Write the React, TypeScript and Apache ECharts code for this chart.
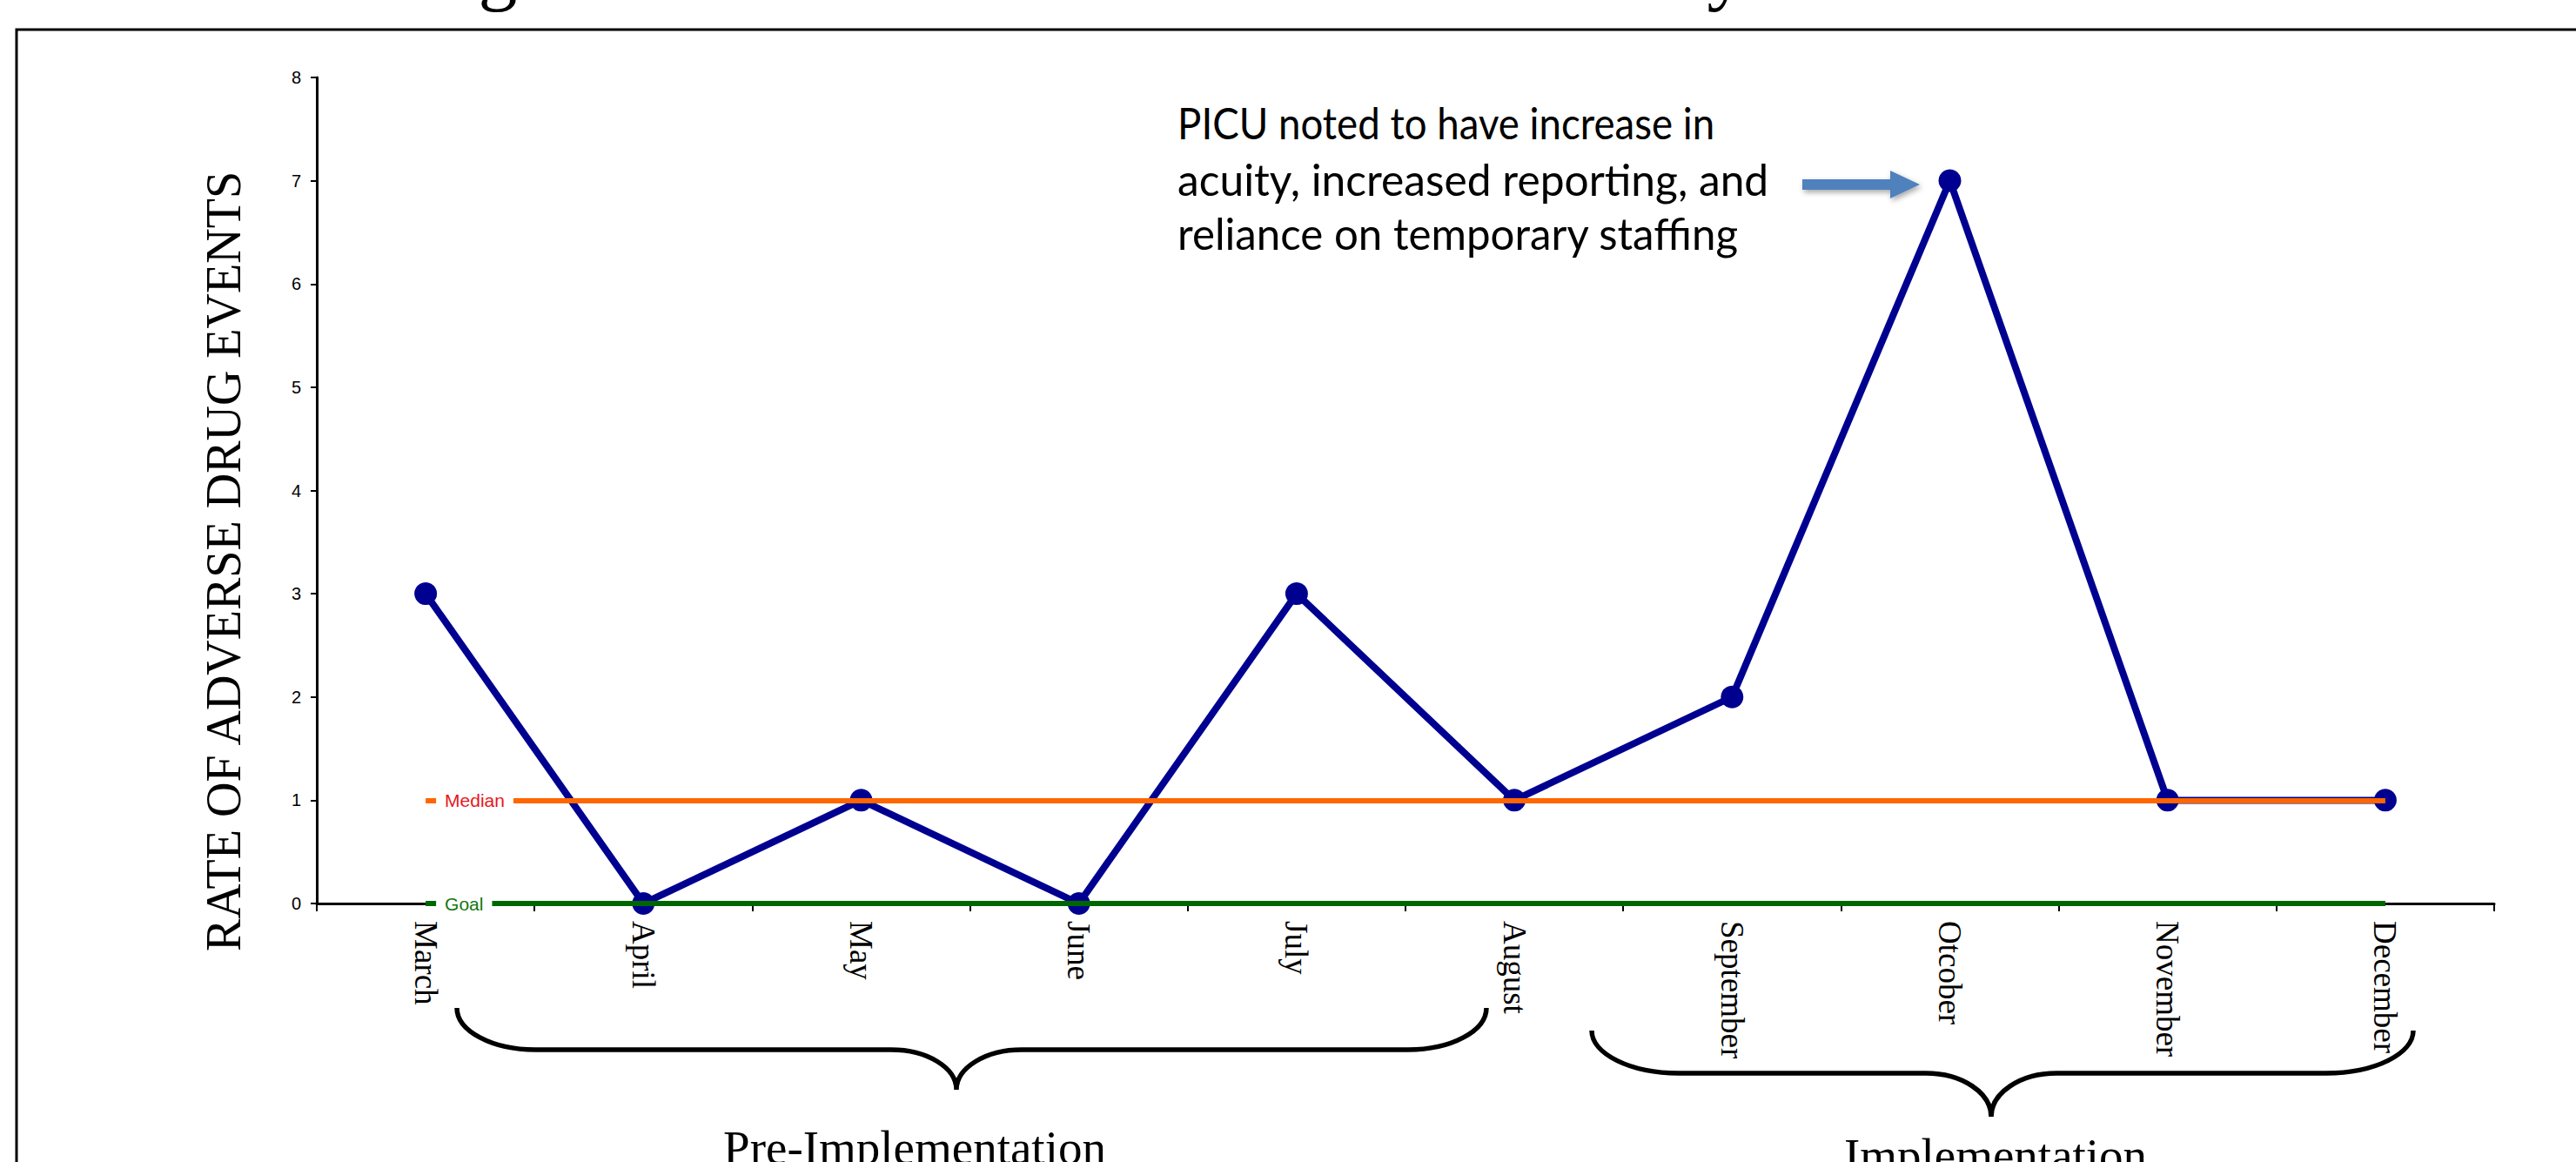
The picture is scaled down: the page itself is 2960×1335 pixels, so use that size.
import React, { useEffect, useRef } from "react";
import * as echarts from "echarts";

// ---------- data ----------
const months = ["March", "April", "May", "June", "July", "August", "September", "Otcober", "November", "December"];
const adeRate = [3, 0, 1, 0, 3, 1, 2, 7, 1, 1];
const medianValue = 1;
const goalValue = 0;
const yMin = 0;
const yMax = 8;
const yInterval = 1;
const yAxisTitle = "RATE OF ADVERSE DRUG EVENTS";
const annotationLines = [
  "PICU noted to have increase in",
  "acuity, increased reporting, and",
  "reliance on temporary staffing",
];
const phaseLabels = ["Pre-Implementation", "Implementation"];
const titleFragments = ["g", "y"];

// ---------- decoration geometry ----------
function bracePath(x1: number, x2: number, xm: number, yTop: number, yMid: number, yTip: number, rx: number, cw: number) {
  const k = 0.552;
  const ry = yMid - yTop;
  const ch = yTip - yMid;
  return (
    `M${x1} ${yTop} C${x1} ${yTop + k * ry} ${x1 + rx * (1 - k)} ${yMid} ${x1 + rx} ${yMid} ` +
    `L${xm - cw} ${yMid} C${xm - cw + k * cw} ${yMid} ${xm} ${yTip - k * ch} ${xm} ${yTip} ` +
    `C${xm} ${yTip - k * ch} ${xm + cw - k * cw} ${yMid} ${xm + cw} ${yMid} ` +
    `L${x2 - rx} ${yMid} C${x2 - rx * (1 - k)} ${yMid} ${x2} ${yTop + k * ry} ${x2} ${yTop}`
  );
}

let shapesRegistered = false;
function registerShapes() {
  if (shapesRegistered) return;
  shapesRegistered = true;
  echarts.graphic.registerShape("bracePre", echarts.graphic.extendPath(bracePath(525, 1708, 1099, 1158, 1206, 1252, 90, 75), {}));
  echarts.graphic.registerShape("braceImp", echarts.graphic.extendPath(bracePath(1829, 2773, 2288, 1184, 1233, 1283, 100, 75), {}));
}

function measure(text: string, font: string) {
  const ctx = document.createElement("canvas").getContext("2d");
  if (!ctx) return 1;
  ctx.font = font;
  return ctx.measureText(text).width || 1;
}

export default function App() {
  const ref = useRef<HTMLDivElement>(null);

  useEffect(() => {
    document.body.style.margin = "0";
    registerShapes();
    const chart = echarts.init(ref.current!, null, { renderer: "svg" });

    const annFont = "Lato";
    const annSize = 50;
    const annTargets = [594, 693, 655];
    const annCenters = [141, 206, 268];
    const ownScales = annotationLines.map((t, i) => annTargets[i] / measure(t, `${annSize}px ${annFont}`));
    const meanScale = ownScales.reduce((a, b) => a + b, 0) / ownScales.length;
    const annotation = annotationLines.map((t, i) => ({
      type: "text",
      x: 1353,
      y: annCenters[i],
      scaleX: 0.6 * ownScales[i] + 0.4 * meanScale,
      silent: true,
      style: {
        text: t,
        fontFamily: annFont,
        fontSize: annSize,
        fill: "#000",
        align: "left",
        verticalAlign: "middle",
        textAlign: "left",
        textVerticalAlign: "middle",
      },
    }));

    const refLabel = (text: string, color: string) => ({
      show: true,
      position: "insideStart",
      formatter: text,
      color,
      fontSize: 21,
      fontFamily: "Liberation Sans",
      backgroundColor: "#fff",
      padding: [3, 10],
      distance: [12, 0],
    });

    const option: any = {
      animation: false,
      backgroundColor: "#fff",
      grid: { left: 364, right: 94, top: 89, bottom: 297, containLabel: false, outerBoundsMode: "none" },
      xAxis: {
        type: "category",
        data: months,
        boundaryGap: true,
        axisLine: { show: true, lineStyle: { color: "#000", width: 3 } },
        axisTick: { show: true, interval: 0, length: 9, lineStyle: { color: "#000", width: 2 } },
        axisLabel: {
          interval: 0,
          rotate: -90,
          margin: 20,
          fontFamily: "Liberation Serif",
          fontSize: 37,
          color: "#000",
          hideOverlap: false,
        },
        splitLine: { show: false },
      },
      yAxis: {
        type: "value",
        min: yMin,
        max: yMax,
        interval: yInterval,
        axisLine: { show: true, lineStyle: { color: "#000", width: 3 } },
        axisTick: { show: true, length: 7, lineStyle: { color: "#000", width: 2 } },
        axisLabel: { margin: 18, fontFamily: "Liberation Sans", fontSize: 20, color: "#000" },
        splitLine: { show: false },
      },
      series: [
        {
          type: "line",
          name: "Rate",
          data: adeRate,
          symbol: "circle",
          symbolSize: 26,
          showSymbol: true,
          silent: true,
          z: 2,
          lineStyle: { color: "#000090", width: 8 },
          itemStyle: { color: "#000090" },
        },
        {
          type: "line",
          name: "Median",
          data: [],
          silent: true,
          markLine: {
            silent: true,
            symbol: ["none", "none"],
            lineStyle: { color: "#FF6600", width: 6, type: "solid" },
            label: refLabel("Median", "#E8161B"),
            emphasis: { disabled: true },
            data: [[{ coord: [0, medianValue] }, { coord: [months.length - 1, medianValue] }]],
          },
        },
        {
          type: "line",
          name: "Goal",
          data: [],
          silent: true,
          markLine: {
            silent: true,
            symbol: ["none", "none"],
            lineStyle: { color: "#006600", width: 6, type: "solid" },
            label: refLabel("Goal", "#117711"),
            emphasis: { disabled: true },
            data: [[{ coord: [0, goalValue] }, { coord: [months.length - 1, goalValue] }]],
          },
        },
      ],
      graphic: [
        {
          type: "rect",
          silent: true,
          shape: { x: 19, y: 34, width: 3000, height: 1400 },
          style: { fill: "none", stroke: "#000", lineWidth: 3 },
        },
        {
          type: "text",
          x: 572,
          y: -36,
          silent: true,
          style: { text: titleFragments[0], fontFamily: "Liberation Serif", fontSize: 90, fill: "#000", align: "center", verticalAlign: "middle", textAlign: "center", textVerticalAlign: "middle" },
        },
        {
          type: "text",
          x: 1984,
          y: -36,
          silent: true,
          style: { text: titleFragments[1], fontFamily: "Liberation Serif", fontSize: 90, fill: "#000", align: "center", verticalAlign: "middle", textAlign: "center", textVerticalAlign: "middle" },
        },
        {
          type: "text",
          x: 257,
          y: 645,
          rotation: Math.PI / 2,
          silent: true,
          style: { text: yAxisTitle, fontFamily: "Liberation Serif", fontSize: 56, fill: "#000", align: "center", verticalAlign: "middle", textAlign: "center", textVerticalAlign: "middle" },
        },
        ...annotation,
        {
          type: "polygon",
          silent: true,
          shape: {
            points: [
              [2071, 206], [2172, 206], [2172, 196], [2206, 212], [2172, 228], [2172, 218], [2071, 218],
            ],
          },
          style: { fill: "#4F81BD", shadowBlur: 6, shadowColor: "rgba(0,0,0,0.35)", shadowOffsetX: 2, shadowOffsetY: 3 },
        },
        { type: "bracePre", x: 0, y: 0, silent: true, style: { fill: "none", stroke: "#000", lineWidth: 5.5 } },
        { type: "braceImp", x: 0, y: 0, silent: true, style: { fill: "none", stroke: "#000", lineWidth: 5.5 } },
        {
          type: "text",
          x: 1051,
          y: 1291,
          silent: true,
          style: { text: phaseLabels[0], fontFamily: "Liberation Serif", fontSize: 55, fill: "#000", align: "center", verticalAlign: "top", textAlign: "center", textVerticalAlign: "top" },
        },
        {
          type: "text",
          x: 2293,
          y: 1300,
          silent: true,
          style: { text: phaseLabels[1], fontFamily: "Liberation Serif", fontSize: 55, fill: "#000", align: "center", verticalAlign: "top", textAlign: "center", textVerticalAlign: "top" },
        },
      ],
    };

    chart.setOption(option);
    return () => chart.dispose();
  }, []);

  return (
    <div
      ref={ref}
      style={{ position: "absolute", left: 0, top: 0, width: 2960, height: 1335, background: "#fff" }}
    />
  );
}
